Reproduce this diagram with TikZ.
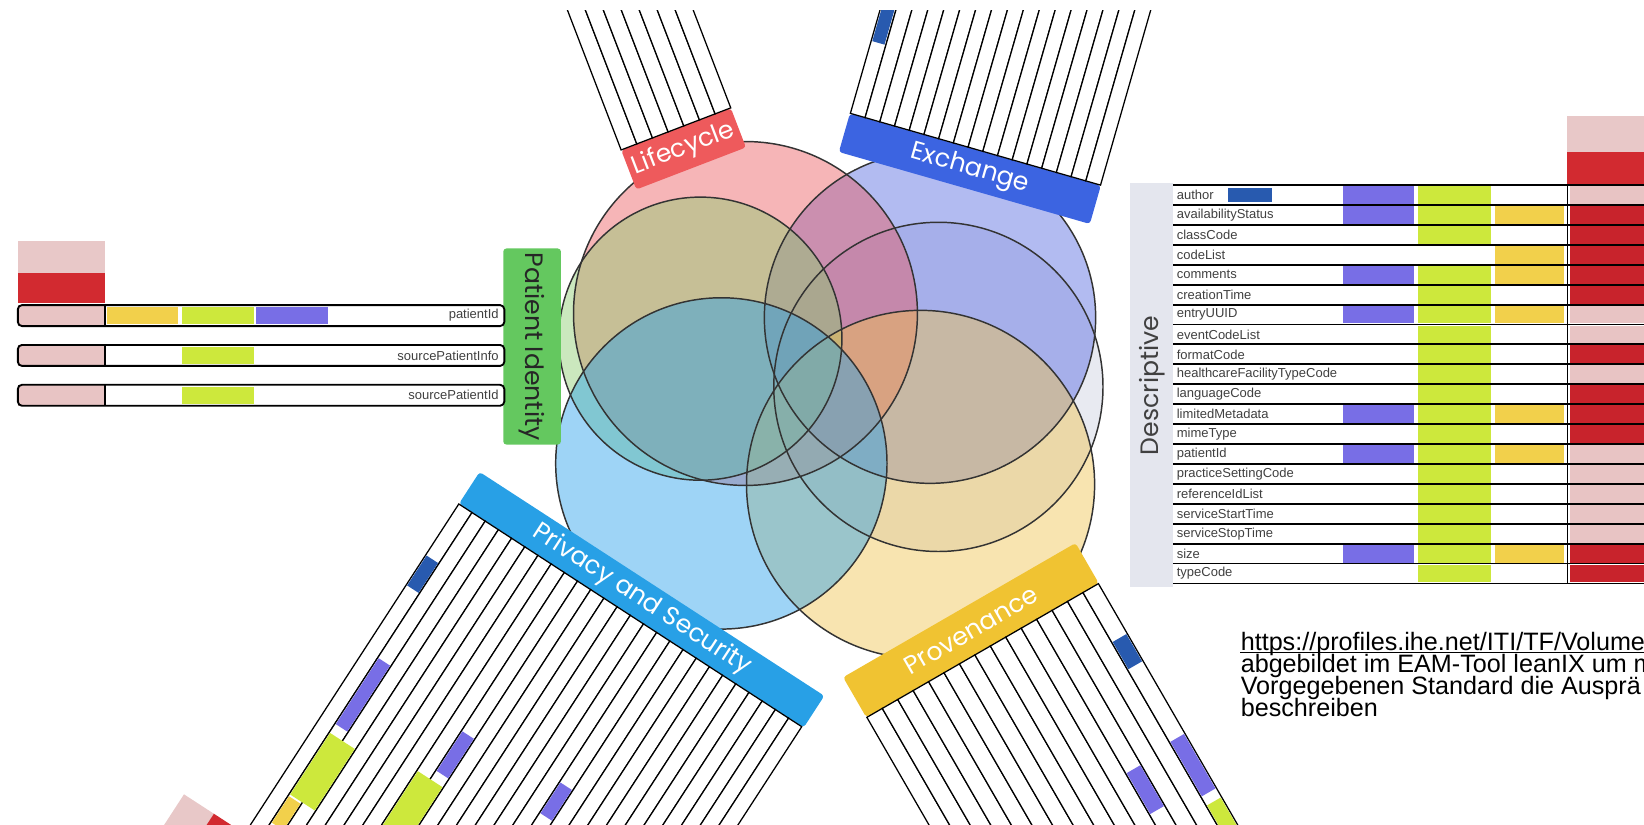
\documentclass[tikz,border=0pt]{standalone}
\usepackage{fontspec}
\setmainfont{Liberation Sans}
\newfontfamily\labelfont{Poppins}

\definecolor{pinkc}{RGB}{235,90,95}
\definecolor{bluec}{RGB}{85,105,225}
\definecolor{privc}{RGB}{40,160,235}
\definecolor{yelc}{RGB}{240,195,80}
\definecolor{greenc}{RGB}{140,205,110}
\definecolor{grayc}{RGB}{205,208,225}
\definecolor{lcred}{RGB}{238,90,92}
\definecolor{exblue}{RGB}{60,100,225}
\definecolor{pvblue}{RGB}{40,160,230}
\definecolor{pryel}{RGB}{240,195,50}
\definecolor{pidgreen}{RGB}{100,200,95}
\definecolor{descgray}{RGB}{228,230,238}
\definecolor{purplec}{RGB}{120,110,230}
\definecolor{limec}{RGB}{205,232,60}
\definecolor{orangec}{RGB}{242,208,75}
\definecolor{darkred}{RGB}{200,35,44}
\definecolor{cellpink}{RGB}{232,196,196}
\definecolor{hdpink}{RGB}{232,200,200}
\definecolor{hdred}{RGB}{210,42,48}
\definecolor{darkbl}{RGB}{40,90,175}

\begin{document}
\begin{tikzpicture}[x=0.5pt,y=-0.5pt,
  venn/.style={fill opacity=0.45},
  ring/.style={draw=black!80,line width=0.7pt},
  banner/.style={rounded corners=1.5pt,inner sep=0pt,text=white,font=\labelfont\fontsize{12}{12}\selectfont},
  strip/.style={draw=black,line width=0.6pt,fill=white},
  rowline/.style={draw=black,line width=0.9pt},
  rowtext/.style={inner sep=0pt,text=black!75,font=\fontsize{6.2}{6.2}\selectfont},
  srctext/.style={anchor=base west,inner sep=0pt,font=\fontsize{12}{14}\selectfont}]
\useasboundingbox (0,0) rectangle (1568,786);
\clip (0,10) rectangle (1568,786);

%CIRCLES
\coordinate (cdesc) at (895,369);
\coordinate (cexch) at (887,303);
\coordinate (clife) at (711,299);
\coordinate (cpid) at (668,323);
\coordinate (cprov) at (878,462);
\coordinate (cpriv) at (688,442);
\fill[grayc,venn] (cdesc) circle (157);
\fill[bluec,venn] (cexch) circle (158);
\fill[pinkc,venn] (clife) circle (164);
\fill[greenc,venn] (cpid) circle (135);
\fill[yelc,venn] (cprov) circle (166);
\fill[privc,venn] (cpriv) circle (158);
\foreach \c/\r in {cdesc/157,cexch/158,clife/164,cpid/135,cprov/166,cpriv/158}
  \draw[ring] (\c) circle (\r);

%BANNERS
\node[banner,fill=lcred,rotate=21,minimum width=56pt,minimum height=20pt] (lc) at (652,142) {Lifecycle};
\node[banner,fill=exblue,rotate=-16,minimum width=124.5pt,minimum height=19pt] (ex) at (925,161) {Exchange};
\node[banner,fill=pvblue,rotate=-33,minimum width=196pt,minimum height=18pt] (pv) at (612,572) {Privacy and Security};
\node[banner,fill=pryel,rotate=30,minimum width=128pt,minimum height=22pt] (pr) at (926,601) {Provenance};
\node[banner,fill=pidgreen,text=black!85,rotate=-90,minimum width=93.5pt,minimum height=27.5pt] (pid) at (507.5,330.5) {Patient Identity};
\node[banner,fill=descgray,text=black!75,rounded corners=0pt,rotate=90,minimum width=192.5pt,minimum height=20.5pt] (desc) at (1098.5,367.5) {Descriptive};

%LIFECYCLE
\begin{scope}[shift={(lc.north)},rotate=21]
  \foreach \i in {0,...,6}
    \draw[strip] ({-56+16*\i},0) rectangle ++(16,-200);
\end{scope}

%EXCHANGE
\begin{scope}[shift={(ex.north)},rotate=-16]
  \foreach \i in {0,...,16}
    \draw[strip] ({-124.1+14.6*\i},0) rectangle ++(14.6,-250);
  \fill[darkbl] (-123,-72) rectangle (-110.9,-130);
\end{scope}

%PRIVACY AND SECURITY
\begin{scope}[shift={(pv.south)},rotate=-33]
  \foreach \i in {0,...,25}
    \draw[strip] ({-196+15*\i},0) rectangle ++(15,420);
  \fill[darkbl] (-195,58) rectangle (-182,92);
  \fill[purplec] (-180,165) rectangle (-167,240);
  \fill[limec] (-180,250) rectangle (-152,320);
  \fill[orangec] (-180,322) rectangle (-167,352);
  \fill[purplec] (-75,180) rectangle (-62,225);
  \fill[limec] (-90,235) rectangle (-62,300);
  \fill[purplec] (30,170) rectangle (43,205);
  \fill[hdpink] (-265,375) rectangle (-231,440);
  \fill[hdred] (-231,375) rectangle (-197,440);
\end{scope}

%PROVENANCE
\begin{scope}[shift={(pr.south)},rotate=30]
  \foreach \i in {0,...,14}
    \draw[strip] ({-127.5+17*\i},0) rectangle ++(17,300);
  \fill[darkbl] (111.5,55) rectangle (126.5,85);
  \fill[purplec] (60.5,170) rectangle (75.5,215);
  \fill[purplec] (111.5,165) rectangle (126.5,225);
  \fill[limec] (111.5,235) rectangle (126.5,270);
\end{scope}

%PATIENT IDENTITY
\fill[hdpink] (17,230) rectangle (100,260);
\fill[hdred] (17,260) rectangle (100,289);
\foreach \y in {291,329,367}{
  \fill[white] (17,\y) rectangle (481,\y+20);
  \fill[cellpink] (17,\y) rectangle (100,\y+20);
  \fill[limec] (174,\y+2) rectangle (242,\y+18);
}
\fill[orangec] (102,293) rectangle (170,309);
\fill[purplec] (244,293) rectangle (313,309);
\foreach \name/\y in {patientId/291,sourcePatientInfo/329,sourcePatientId/367}{
  \draw[rowline,rounded corners=2pt] (17,\y) rectangle (481,\y+20);
  \draw[rowline] (100,\y) -- (100,\y+20);
  \node[rowtext,anchor=east] (pidrow\y) at (476,\y+10) {\name};
}

%DESCRIPTIVE
\fill[hdpink] (1495,111) rectangle (1575,145);
\fill[hdred] (1495,145) rectangle (1575,176.5);
\fill[white] (1119,176.5) rectangle (1575,556.5);
\fill[darkbl] (1171,179.5) rectangle (1213,192.5);
\foreach \r in {0,1,4,6,11,13,18}
  \fill[purplec] (1281,177.5+19*\r) rectangle (1349,194.5+19*\r);
\foreach \r in {0,1,2,4,5,...,19}
  \fill[limec] (1352,177.5+19*\r) rectangle (1422,194.5+19*\r);
\foreach \r in {1,3,4,6,11,13,18}
  \fill[orangec] (1426,177.5+19*\r) rectangle (1492,194.5+19*\r);
\foreach \r in {1,2,3,4,5,8,10,11,12,18,19}
  \fill[darkred] (1497,177.5+19*\r) rectangle (1575,194.5+19*\r);
\foreach \r in {0,6,7,9,13,14,15,16,17}
  \fill[cellpink] (1497,177.5+19*\r) rectangle (1575,194.5+19*\r);
\foreach \r in {0,...,20}
  \draw[rowline] (1119,176.5+19*\r) -- (1575,176.5+19*\r);
\draw[rowline] (1495,176.5) -- (1495,556.5);
\foreach \name [count=\r from 0] in {author,availabilityStatus,classCode,codeList,comments,creationTime,entryUUID,eventCodeList,formatCode,healthcareFacilityTypeCode,languageCode,limitedMetadata,mimeType,patientId,practiceSettingCode,referenceIdList,serviceStartTime,serviceStopTime,size,typeCode}
  \node[rowtext,anchor=west] (descrow\r) at (1122,186+19*\r) {\name};

%SOURCE
\node[srctext] (src1) at (1183,620) {https://profiles.ihe.net/ITI/TF/Volume};
\draw[line width=0.55pt] ([yshift=-1.3pt]src1.base west) -- ([yshift=-1.3pt]src1.base east);
\node[srctext] (src2) at (1183,641.5) {abgebildet im EAM-Tool leanIX um m};
\node[srctext] (src3) at (1183,662) {Vorgegebenen Standard die Ausprä};
\node[srctext] (src4) at (1183,683) {beschreiben};
\end{tikzpicture}
\end{document}
